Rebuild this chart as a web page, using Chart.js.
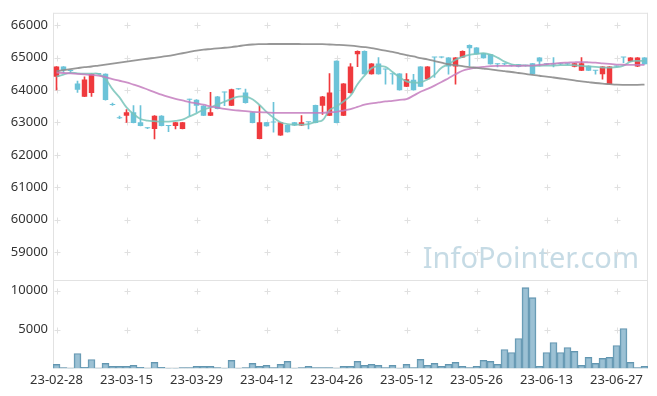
<!DOCTYPE html>
<html><head><meta charset="utf-8">
<script src="https://cdn.jsdelivr.net/npm/chart.js@4/dist/chart.umd.min.js"></script>
<style>html,body{margin:0;padding:0;background:#fff;}#wrap{position:relative;width:657px;height:396px;}</style>
</head><body><div id="wrap"><canvas id="c" width="657" height="396"></canvas></div>
<script>
const dates = ["23-02-28","23-03-02","23-03-03","23-03-06","23-03-07","23-03-08","23-03-09","23-03-10","23-03-13","23-03-14",
"23-03-15","23-03-16","23-03-17","23-03-20","23-03-21","23-03-22","23-03-23","23-03-24","23-03-27","23-03-28",
"23-03-29","23-03-30","23-03-31","23-04-03","23-04-04","23-04-05","23-04-06","23-04-07","23-04-10","23-04-11",
"23-04-12","23-04-13","23-04-14","23-04-17","23-04-18","23-04-19","23-04-20","23-04-21","23-04-24","23-04-25",
"23-04-26","23-04-27","23-04-28","23-05-02","23-05-03","23-05-04","23-05-08","23-05-09","23-05-10","23-05-11",
"23-05-12","23-05-15","23-05-16","23-05-17","23-05-18","23-05-19","23-05-22","23-05-23","23-05-24","23-05-25",
"23-05-26","23-05-30","23-05-31","23-06-01","23-06-02","23-06-05","23-06-07","23-06-08","23-06-09","23-06-12",
"23-06-13","23-06-14","23-06-15","23-06-16","23-06-19","23-06-20","23-06-21","23-06-22","23-06-23","23-06-26",
"23-06-27","23-06-28","23-06-29","23-06-30","23-07-03"];
const openP = [64410,64730,64590,64206,63797,63908,64500,64505,63540,63130,
63212,63314,63006,62822,62800,63212,62890,62892,62800,63705,
63705,63520,63212,63806,63929,63520,64031,63929,63314,62492,
63006,63000,62597,62923,63006,62904,63006,63540,63520,63212,
64905,63212,63908,65108,65212,64492,64822,64640,64490,64514,
64104,64320,64729,64339,65006,65006,65006,64729,65006,65397,
65314,65140,65108,64800,64800,64750,64800,64750,64830,65006,
64800,64790,64800,64800,64720,64600,64750,64600,64492,64185,
64729,65006,64883,64729,65006];
const closeP = [64730,64615,64590,64012,64329,64505,64500,63693,63540,63130,
63314,62985,62892,62822,63212,62892,62890,63006,63006,63705,
63520,63212,63314,63416,63929,64031,64031,63600,62985,63006,
62883,63000,63006,62699,62904,63006,63006,62985,63806,63929,
62985,64206,64729,65212,64492,64822,64492,64640,64490,64000,
64339,64000,64104,64729,65006,65006,64729,65006,65212,65292,
65108,64985,64800,64800,64800,64750,64720,64750,64492,64883,
64800,64790,64800,64800,64830,64830,64600,64600,64729,64729,
64729,65006,65006,65006,64800];
const highP = [64730,64730,64600,64280,64412,64505,64510,64505,63600,63200,
63397,63520,63520,62840,63212,63212,62900,63006,63006,63720,
63705,63520,63929,63806,63940,64031,64040,64031,63314,63520,
63006,63622,63006,62923,63006,63212,63010,63540,63806,64514,
64905,64206,64822,65212,65212,64822,65006,64650,64500,64514,
64514,64490,64729,64729,65010,65010,65006,65006,65212,65397,
65314,65140,65108,64810,64810,64760,64800,64760,64830,65006,
64810,65006,64810,64810,64830,65006,64750,64610,64729,64729,
64740,65010,65006,65006,65006];
const lowP = [64010,64545,64530,63929,63797,63806,64490,63693,63530,63120,
63006,62985,62892,62810,62492,62892,62720,62800,62800,63210,
63314,63212,63212,63416,63520,63520,64020,63600,62985,62492,
62883,62699,62597,62699,62904,62904,62800,62985,63246,63212,
62985,63212,63908,64729,64492,64492,64492,64185,64185,64000,
64104,64000,64104,64339,64391,64995,64492,64185,65006,64750,
65108,64985,64800,64720,64790,64740,64720,64740,64492,64750,
64790,64720,64790,64790,64720,64600,64600,64490,64340,64185,
64720,64850,64883,64729,64800];
const volume = [513,100,40,1920,130,1150,50,640,256,256,
256,384,130,30,770,130,20,20,100,100,
256,256,256,100,20,1025,20,100,640,256,
384,100,513,897,20,100,256,100,100,100,
40,256,256,897,384,513,384,100,384,20,
513,100,1153,384,640,256,513,770,256,100,
256,1025,897,513,2435,2050,3845,10380,9100,256,
2050,3330,2050,2690,2180,384,1410,640,1280,1410,
2950,5130,770,100,256];
const ma5 = [64420,64480,64540,64520,64510,64510,64500,64340,64031,63775,
63468,63262,63108,63058,63040,63027,63027,63050,63088,63190,
63283,63400,63468,63560,63640,63730,63800,63800,63720,63540,
63330,63150,63006,62950,62935,62935,62950,63020,63070,63380,
63500,63650,63827,64180,64450,64680,64740,64720,64560,64400,
64270,64237,64237,64330,64470,64690,64800,64940,65030,65090,
65120,65140,65100,65006,64880,64800,64770,64760,64750,64750,
64760,64760,64770,64770,64770,64750,64730,64720,64700,64698,
64710,64760,64880,64905,64905];
const ma20 = [64545,64530,64515,64500,64485,64470,64450,64400,64340,64290,
64240,64170,64100,64020,63940,63860,63790,63730,63680,63630,
63590,63550,63500,63460,63420,63390,63370,63350,63330,63320,
63310,63300,63300,63295,63295,63295,63295,63298,63300,63315,
63330,63370,63416,63480,63550,63590,63620,63650,63670,63700,
63723,63830,63950,64040,64140,64250,64370,64490,64600,64660,
64700,64720,64740,64750,64750,64750,64752,64755,64760,64780,
64800,64820,64840,64850,64860,64865,64860,64850,64830,64810,
64790,64785,64782,64780,64780];
const ma60 = [64590,64620,64650,64680,64710,64730,64760,64790,64820,64850,
64880,64910,64940,64970,65000,65030,65060,65100,65140,65180,
65220,65250,65270,65290,65310,65330,65360,65390,65410,65420,
65425,65425,65425,65425,65425,65425,65420,65420,65420,65410,
65400,65390,65375,65355,65330,65300,65260,65220,65180,65130,
65080,65040,64990,64950,64900,64850,64800,64770,64740,64710,
64690,64665,64640,64610,64585,64560,64530,64500,64470,64445,
64420,64390,64360,64330,64300,64270,64245,64220,64200,64185,
64170,64165,64165,64165,64170];
const priceTicks = [59000,60000,61000,62000,63000,64000,65000,66000];
const volumeTicks = [5000,10000];

const RED = '#ef3a3e', BLUE = '#6cc3d8';
const candleColors = openP.map((o,i)=> closeP[i] > o ? RED : BLUE);
const FONT = {family: '"Noto Sans", sans-serif', size: 13};
const plain = v => String(v);

const decor = {
  id: 'decor',
  beforeDatasetsDraw(chart) {
    const {ctx, chartArea: a, scales} = chart;
    const xs = scales.x, yp = scales.yPrice, yv = scales.yVol;
    ctx.save();
    ctx.font = '29px "Noto Sans", sans-serif';
    ctx.fillStyle = 'rgba(160,195,212,0.6)';
    ctx.textAlign = 'right'; ctx.textBaseline = 'alphabetic';
    ctx.fillText('InfoPointer.com', a.right - 9, yp.bottom - 12);
    ctx.strokeStyle = '#e2e2e2'; ctx.lineWidth = 1;
    ctx.beginPath();
    ctx.moveTo(a.left + 0.5, a.top + 0.5); ctx.lineTo(a.right - 0.5, a.top + 0.5);
    ctx.moveTo(a.left + 0.5, a.top); ctx.lineTo(a.left + 0.5, a.bottom);
    ctx.moveTo(a.right - 0.5, a.top); ctx.lineTo(a.right - 0.5, a.bottom);
    ctx.moveTo(a.left, Math.round(yp.bottom) + 0.5); ctx.lineTo(a.right, Math.round(yp.bottom) + 0.5);
    ctx.moveTo(a.left, a.bottom - 0.5); ctx.lineTo(a.right, a.bottom - 0.5);
    ctx.stroke();
    ctx.strokeStyle = '#e0e0e0';
    const xPos = [];
    dates.forEach((d,i)=>{ if (i % 10 === 0) xPos.push(Math.round(xs.getPixelForValue(i)) + 0.5); });
    const yPos = priceTicks.map(v=>Math.round(yp.getPixelForValue(v)) + 0.5)
      .concat(volumeTicks.map(v=>Math.round(yv.getPixelForValue(v)) + 0.5));
    ctx.beginPath();
    xPos.forEach(x=>yPos.forEach(y=>{
      ctx.moveTo(x - 3, y); ctx.lineTo(x + 3, y);
      ctx.moveTo(x, y - 3); ctx.lineTo(x, y + 3);
    }));
    ctx.stroke();
    ctx.restore();
  }
};

const lineDs = (data, color) => ({
  type: 'line', data, yAxisID: 'yPrice', borderColor: color, borderWidth: 1.8,
  pointRadius: 0, tension: 0.4, fill: false
});

new Chart(document.getElementById('c'), {
  data: {
    labels: dates,
    datasets: [
      lineDs(ma60, 'rgba(140,140,140,0.9)'),
      lineDs(ma20, 'rgba(196,124,190,0.85)'),
      lineDs(ma5, 'rgba(120,196,186,0.85)'),
      {type: 'bar', data: lowP.map((l,i)=>[l, highP[i]]), yAxisID: 'yPrice',
       backgroundColor: candleColors, barThickness: 1, minBarLength: 1},
      {type: 'bar', data: openP.map((o,i)=>[o, closeP[i]]), yAxisID: 'yPrice',
       backgroundColor: candleColors, barPercentage: 0.78, categoryPercentage: 1, minBarLength: 1},
      {type: 'bar', data: volume, yAxisID: 'yVol',
       backgroundColor: 'rgba(128,176,200,0.78)', borderColor: '#6396b0', borderWidth: 1,
       barPercentage: 1, categoryPercentage: 1}
    ]
  },
  options: {
    responsive: false, animation: false, devicePixelRatio: 1,
    layout: {padding: {top: 7, right: 9, left: 0, bottom: 4}},
    plugins: {legend: {display: false}, tooltip: {enabled: false}},
    scales: {
      x: {
        type: 'category', stacked: true, offset: true,
        grid: {display: false, drawTicks: false}, border: {display: false},
        ticks: {autoSkip: false, maxRotation: 0, color: '#333', font: FONT, padding: 4,
          callback: (v, i) => (i % 10 === 0 ? dates[i] : '')}
      },
      yVol: {
        type: 'linear', position: 'left', stack: 'panels', stackWeight: 89,
        min: 0, max: 11400,
        afterBuildTicks: s => { s.ticks = volumeTicks.map(v => ({value: v})); },
        afterFit: s => { s.width = 53; },
        grid: {display: false, drawTicks: false}, border: {display: false},
        ticks: {color: '#333', font: FONT, padding: 5, callback: plain}
      },
      yPrice: {
        type: 'linear', position: 'left', stack: 'panels', stackWeight: 268,
        min: 58140, max: 66390,
        afterBuildTicks: s => { s.ticks = priceTicks.map(v => ({value: v})); },
        afterFit: s => { s.width = 53; },
        grid: {display: false, drawTicks: false}, border: {display: false},
        ticks: {color: '#333', font: FONT, padding: 5, callback: plain}
      }
    }
  },
  plugins: [decor]
});
</script></body></html>
